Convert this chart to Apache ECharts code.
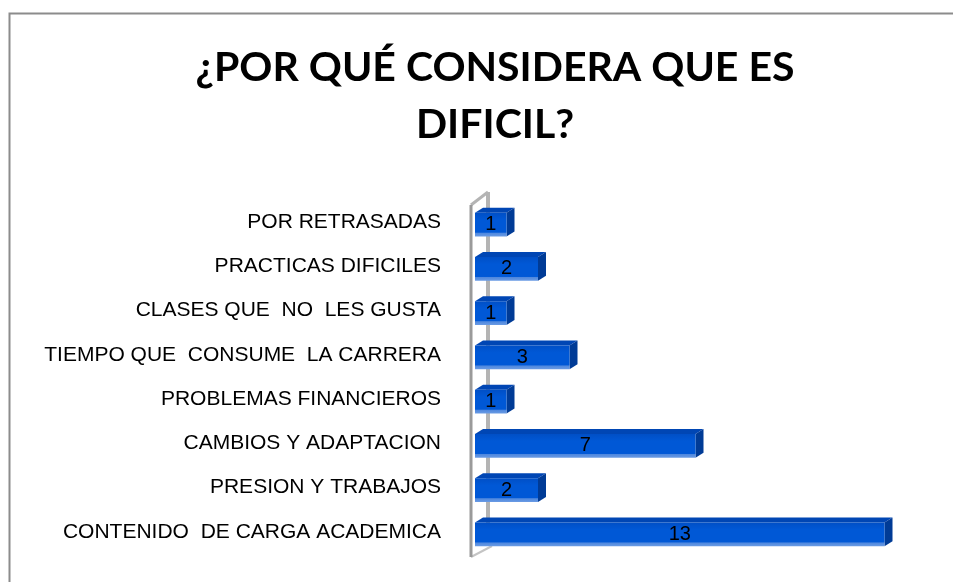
<!DOCTYPE html>
<html>
<head>
<meta charset="utf-8">
<script src="https://cdn.jsdelivr.net/npm/echarts@6/dist/echarts.min.js"></script>
<style>
  html, body { margin: 0; background: #fff; }
  #chart { width: 953px; height: 582px; }
</style>
</head>
<body>
<div id="chart"></div>
<script>
// bottom to top, like the category axis draws them
const categories = [
  'CONTENIDO  DE CARGA ACADEMICA',
  'PRESION Y TRABAJOS',
  'CAMBIOS Y ADAPTACION',
  'PROBLEMAS FINANCIEROS',
  'TIEMPO QUE  CONSUME  LA CARRERA',
  'CLASES QUE  NO  LES GUSTA',
  'PRACTICAS DIFICILES',
  'POR RETRASADAS'
]
const counts = [13, 2, 7, 1, 3, 1, 2, 1]
const titleText = '¿POR QUÉ CONSIDERA QUE ES\nDIFICIL?'

const chart = echarts.init(document.getElementById('chart'))

const depthX = 8
const depthY = 5

// 3d-looking bar: top face, side face, front face, value text
const renderBar = (params, api) => {
  const idx = api.value(0)
  const val = api.value(1)
  const start = api.coord([0, idx])
  const end = api.coord([val, idx])
  const band = api.size([0, 1])[1]
  const h = band * 0.65
  const x0 = start[0]
  const x1 = end[0]
  const top = start[1] - h / 2
  const bottom = start[1] + h / 2
  return {
    type: 'group',
    children: [
      {
        type: 'polygon',
        shape: { points: [[x0, top + depthY], [x0 + depthX, top], [x1 + depthX, top], [x1, top + depthY]] },
        style: { fill: '#0046b4' }
      },
      {
        type: 'polygon',
        shape: { points: [[x1, top + depthY], [x1 + depthX, top], [x1 + depthX, bottom - depthY], [x1, bottom]] },
        style: { fill: '#003b96' }
      },
      {
        type: 'rect',
        shape: { x: x0, y: top + depthY, width: x1 - x0, height: bottom - top - depthY },
        style: {
          fill: new echarts.graphic.LinearGradient(0, 0, 0, 1, [
            { offset: 0, color: '#004fc6' },
            { offset: 0.3, color: '#0058d6' },
            { offset: 0.82, color: '#0058d6' },
            { offset: 0.86, color: '#4f88de' },
            { offset: 1, color: '#6a9be4' }
          ])
        }
      },
      {
        type: 'text',
        style: {
          x: (x0 + x1) / 2,
          y: (top + depthY + bottom) / 2,
          text: String(val),
          align: 'center',
          verticalAlign: 'middle',
          font: '20px "Liberation Sans"',
          fill: '#000'
        }
      }
    ]
  }
}

// the grey wall at the left of the plot
const renderWall = (params, api) => {
  const cs = params.coordSys
  const fx = cs.x - 4
  const bx = cs.x + 13
  const yTop = cs.y
  const yBot = cs.y + cs.height
  return {
    type: 'group',
    children: [
      { type: 'line', shape: { x1: bx, y1: yTop - 8, x2: bx, y2: yBot - 8 }, style: { stroke: '#b4b4b4', lineWidth: 4 } },
      { type: 'line', shape: { x1: fx, y1: yTop + 5, x2: bx, y2: yTop - 8 }, style: { stroke: '#b4b4b4', lineWidth: 3 } },
      { type: 'line', shape: { x1: fx, y1: yBot + 3, x2: bx + 4, y2: yBot - 8 }, style: { stroke: '#c4c4c4', lineWidth: 2 } },
      { type: 'line', shape: { x1: fx, y1: yTop + 5, x2: fx, y2: yBot + 3 }, style: { stroke: '#9a9a9a', lineWidth: 3 } }
    ]
  }
}

chart.setOption({
  animation: false,
  title: {
    text: titleText,
    left: 490,
    top: 34,
    textAlign: 'center',
    textStyle: {
      fontFamily: 'Lato',
      fontWeight: 'bold',
      fontSize: 41,
      lineHeight: 57,
      color: '#000'
    }
  },
  graphic: [{
    type: 'rect',
    left: 7,
    top: 11,
    shape: { width: 1000, height: 700 },
    style: { fill: 'none', stroke: '#8c8c8c', lineWidth: 2 },
    silent: true
  }],
  grid: { left: 475, right: 37, top: 200, bottom: 28 },
  xAxis: {
    type: 'value',
    min: 0,
    max: 14,
    show: false
  },
  yAxis: {
    type: 'category',
    data: categories,
    axisLine: { show: false },
    axisTick: { show: false },
    axisLabel: {
      margin: 34,
      fontFamily: 'Liberation Sans',
      fontSize: 21,
      color: '#000'
    }
  },
  series: [
    {
      type: 'custom',
      name: 'wall',
      renderItem: renderWall,
      data: [[0, 0]],
      z: 1
    },
    {
      type: 'custom',
      name: 'bars',
      renderItem: renderBar,
      encode: { x: 1, y: 0 },
      data: counts.map((v, i) => [i, v]),
      z: 2
    }
  ]
})
</script>
</body>
</html>
